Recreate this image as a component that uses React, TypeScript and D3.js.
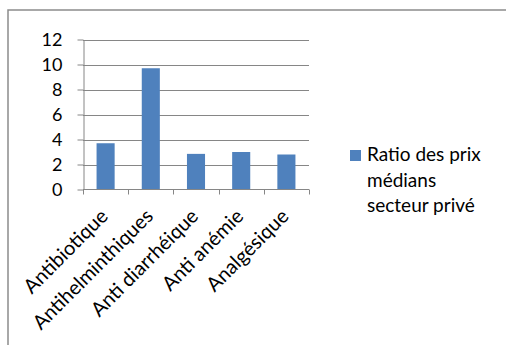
import React, { useEffect, useRef } from "react"
import * as d3 from "d3"

const categories = [
  "Antibiotique",
  "Antihelminthiques",
  "Anti diarrhéique",
  "Anti anémie",
  "Analgésique",
]
const values = [3.7, 9.7, 2.85, 3.0, 2.8]
const yTicks = [0, 2, 4, 6, 8, 10, 12]
const legendLines = ["Ratio des prix", "médians", "secteur privé"]

const App = () => {
  const ref = useRef<SVGSVGElement>(null)

  useEffect(() => {
    const svg = d3.select(ref.current)
    svg.selectAll("*").remove()

    const font = "Lato, 'Open Sans', sans-serif"
    const grey = "#868686"

    // outer frame: only top and left edges are inside the picture
    svg
      .append("path")
      .attr("d", "M8,345 L8,10 L506,10")
      .attr("fill", "none")
      .attr("stroke", "#8c8c8c")
      .attr("stroke-width", 1.5)

    const left = 83
    const right = 309
    const top = 39.5
    const bottom = 189.5

    const x = d3
      .scaleBand()
      .domain(categories)
      .range([left, right])
      .paddingInner(0.6)
      .paddingOuter(0.3)

    const y = d3.scaleLinear().domain([0, 12]).range([bottom, top])

    const g = svg.append("g")

    // gridlines
    g.selectAll(".grid")
      .data(yTicks.filter((t) => t > 0))
      .join("line")
      .attr("x1", left)
      .attr("x2", right)
      .attr("y1", (d) => Math.round(y(d)) + 0.5)
      .attr("y2", (d) => Math.round(y(d)) + 0.5)
      .attr("stroke", grey)
      .attr("stroke-width", 1)

    // bars
    g.selectAll(".bar")
      .data(values)
      .join("rect")
      .attr("x", (_, i) => x(categories[i])!)
      .attr("y", (d) => y(d))
      .attr("width", x.bandwidth())
      .attr("height", (d) => y(0) - y(d))
      .attr("fill", "#4F81BD")

    // y axis
    const yAxis = d3
      .axisLeft(y)
      .tickValues(yTicks)
      .tickSize(6)
      .tickPadding(15)
      .tickSizeOuter(0)
    const ya = g
      .append("g")
      .attr("transform", `translate(${left + 0.5},0)`)
      .call(yAxis)
    ya.selectAll("line").attr("stroke", grey)
    ya.select(".domain").attr("stroke", grey)
    ya.selectAll("text")
      .attr("font-family", font)
      .attr("font-size", 18)
      .attr("fill", "#000")

    // x axis
    const step = x.step()
    const edges = d3
      .range(categories.length + 1)
      .map((i) => left + (right - left - step * categories.length) / 2 + i * step)
    g.append("line")
      .attr("x1", left)
      .attr("x2", right)
      .attr("y1", bottom)
      .attr("y2", bottom)
      .attr("stroke", grey)
    g.selectAll(".xtick")
      .data(edges)
      .join("line")
      .attr("x1", (d) => Math.round(d) + 0.5)
      .attr("x2", (d) => Math.round(d) + 0.5)
      .attr("y1", bottom)
      .attr("y2", bottom + 5)
      .attr("stroke", grey)

    g.selectAll(".xlabel")
      .data(categories)
      .join("text")
      .attr("transform", (d) => {
        const cx = x(d)! + x.bandwidth() / 2 + 3.5
        return `translate(${cx},${bottom + 28}) rotate(-45)`
      })
      .attr("text-anchor", "end")
      .attr("font-family", font)
      .attr("font-size", 20)
      .attr("fill", "#000")
      .text((d) => d)

    // legend
    svg
      .append("rect")
      .attr("x", 350)
      .attr("y", 150)
      .attr("width", 11)
      .attr("height", 11)
      .attr("fill", "#4F81BD")
    svg
      .append("g")
      .selectAll("text")
      .data(legendLines)
      .join("text")
      .attr("x", 367)
      .attr("y", (_, i) => 161 + i * 25.7)
      .attr("font-family", font)
      .attr("font-size", 19)
      .attr("fill", "#000")
      .text((d) => d)
  }, [])

  return (
    <svg
      ref={ref}
      width={506}
      height={345}
      style={{ position: "absolute", left: 0, top: 0, background: "#fff" }}
    />
  )
}

export default App
